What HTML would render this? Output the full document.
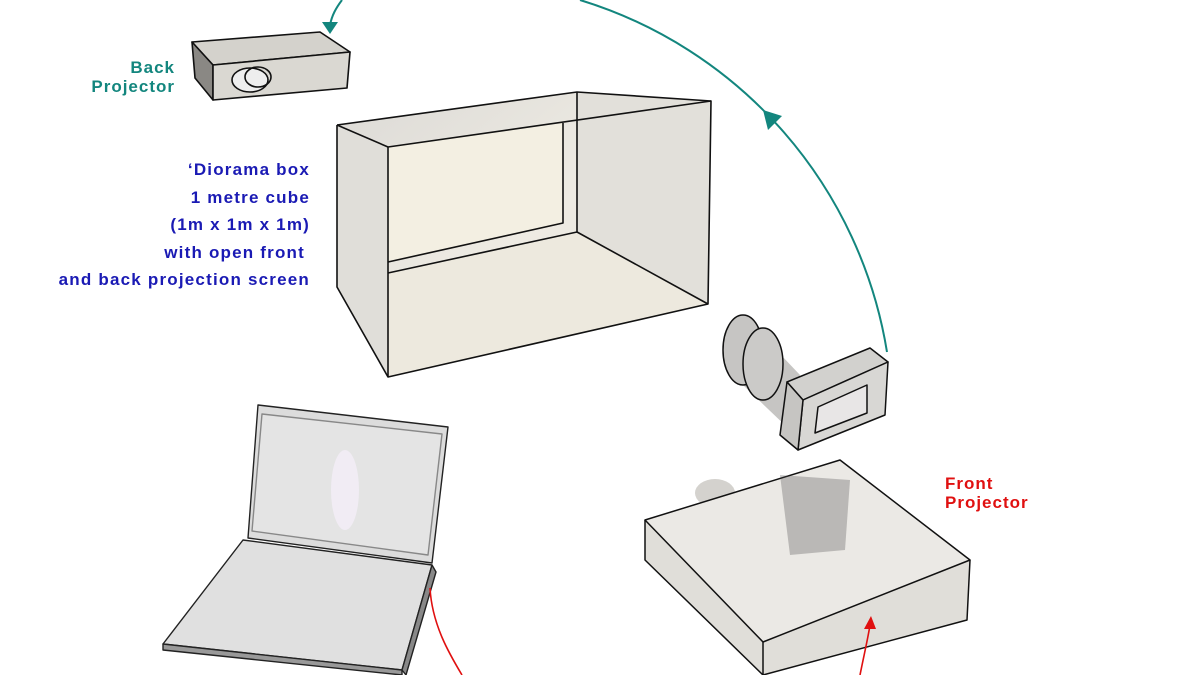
<!DOCTYPE html>
<html><head><meta charset="utf-8"><style>
html,body{margin:0;padding:0;background:#fff;}
svg{display:block;}
text{font-family:"Liberation Sans",sans-serif;font-weight:bold;}
</style></head><body>
<svg width="1200" height="675" viewBox="0 0 1200 675" xmlns="http://www.w3.org/2000/svg">
<defs>
<linearGradient id="g1" x1="0" y1="0" x2="1" y2="1">
<stop offset="0" stop-color="#dcdad6"/><stop offset="0.5" stop-color="#eeebe3"/><stop offset="1" stop-color="#e2dfd8"/>
</linearGradient>
</defs>
<!-- Diorama box -->
<g stroke="#111" stroke-width="1.6" stroke-linejoin="round">
<polygon points="337,125 577,92 711,101 708,304 388,377 337,287" fill="url(#g1)" stroke="none"/>
<polygon points="388,147 563,123 563,223 388,262" fill="#f3efe2" stroke="none"/>
<polygon points="577,92 711,101 708,304 577,232" fill="#e2e0da" stroke="none"/>
<polygon points="388,273 577,232 708,304 388,377" fill="#ede9de" stroke="none"/>
<polygon points="337,125 388,147 388,377 337,287" fill="#e0ded9" stroke="none"/>
<polyline fill="none" points="337,125 577,92 711,101"/>
<polyline fill="none" points="337,125 388,147 711,101 708,304 388,377 337,287 337,125"/>
<line x1="388" y1="147" x2="388" y2="377"/>
<line x1="577" y1="92" x2="577" y2="232"/>
<polyline fill="none" points="563,123 563,223 388,262"/>
<line x1="388" y1="273" x2="577" y2="232"/>
<line x1="577" y1="232" x2="708" y2="304"/>
</g>
<!-- Back projector -->
<g stroke="#111" stroke-width="1.6" stroke-linejoin="round">
<polygon points="192,42 320,32 350,52 213,65" fill="#d4d2cc"/>
<polygon points="192,42 213,65 213,100 195,78" fill="#8a8884"/>
<polygon points="213,65 350,52 347,88 213,100" fill="#dad8d2"/>
<ellipse cx="250" cy="80" rx="18" ry="12" fill="#eee"/>
<ellipse cx="258" cy="77" rx="13" ry="10" fill="none"/>
</g>
<!-- Camera -->
<g stroke="#111" stroke-width="1.5" stroke-linejoin="round">
<polygon points="743,315 800,375 790,430 743,385" fill="#c6c5c3" stroke="none"/>
<ellipse cx="743" cy="350" rx="20" ry="35" fill="#c6c5c3"/>
<ellipse cx="763" cy="364" rx="20" ry="36" fill="#cbcac8"/>
<polygon points="787,382 870,348 888,362 803,400" fill="#d2d1ce"/>
<polygon points="803,400 888,362 885,415 798,450" fill="#d8d7d4"/>
<polygon points="787,382 803,400 798,450 780,435" fill="#c6c5c2"/>
<polygon points="818,407 867,385 867,413 815,433" fill="#e8e6e6"/>
</g>
<!-- Front projector -->
<g stroke="#111" stroke-width="1.5" stroke-linejoin="round">
<ellipse cx="715" cy="493" rx="20" ry="14" fill="#d4d2ce" stroke="none"/>
<polygon points="645,520 840,460 970,560 967,620 763,675 645,560" fill="#e0ded9" stroke="none"/>
<polygon points="645,520 840,460 970,560 763,642" fill="#ebe9e5"/>
<polyline fill="none" points="645,520 645,560 763,675"/>
<polyline fill="none" points="763,642 763,675"/>
<polyline fill="none" points="970,560 967,620 763,675"/>
<path d="M780,475 L850,480 L845,550 L790,555 Z" fill="#4a4a4a" opacity="0.3" stroke="none"/>
</g>
<!-- Laptop -->
<g stroke="#222" stroke-width="1.4" stroke-linejoin="round">
<polygon points="258,405 448,427 432,563 248,538" fill="#dcdcdc"/>
<polygon points="262,414 442,434 428,555 252,531" fill="#e4e4e4" stroke="#888"/>
<polygon points="243,540 432,565 402,670 163,644" fill="#e0e0e0"/>
<polygon points="163,644 402,670 402,675 163,650" fill="#999"/>
<polygon points="432,565 436,572 406,675 402,670" fill="#888"/>
<ellipse cx="345" cy="490" rx="14" ry="40" fill="#f4eef8" stroke="none" opacity="0.8"/>
</g>
<!-- connectors -->
<path d="M887,352 A442,442 0 0 0 580,0" fill="none" stroke="#13867e" stroke-width="2"/>
<path d="M342,0 C336,8 332,15 330,25" fill="none" stroke="#13867e" stroke-width="2"/>
<polygon points="322,22 338,22 330,34" fill="#13867e"/>
<polygon points="763,110 782,116 768,130" fill="#13867e"/>
<path d="M430,588 C432,625 450,655 462,675" fill="none" stroke="#e01010" stroke-width="1.6"/>
<path d="M860,675 C864,655 868,638 870,625" fill="none" stroke="#e01010" stroke-width="1.6"/>
<polygon points="864,629 876,629 871,616" fill="#e01010"/>
<!-- labels -->
<g fill="#13867e" font-size="17" text-anchor="end" letter-spacing="1">
<text x="175" y="73">Back</text><text x="175" y="92">Projector</text>
</g>
<g fill="#1a1ab4" font-size="17" text-anchor="end" letter-spacing="1.2">
<text x="310" y="175">‘Diorama box</text>
<text x="310" y="203">1 metre cube</text>
<text x="310" y="230">(1m x 1m x 1m)</text>
<text x="305" y="258">with open front</text>
<text x="310" y="285">and back projection screen</text>
</g>
<g fill="#e01010" font-size="17" letter-spacing="1">
<text x="945" y="489">Front</text><text x="945" y="508">Projector</text>
</g>
</svg>
</body></html>
